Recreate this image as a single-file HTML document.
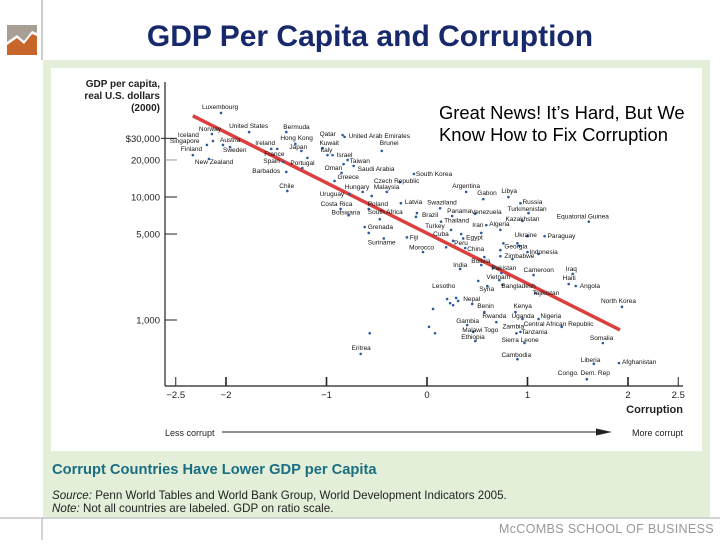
<!DOCTYPE html>
<html><head><meta charset="utf-8"><style>
html,body{margin:0;padding:0;background:#fff;}
svg{display:block;font-family:"Liberation Sans",sans-serif;}
</style></head><body>
<svg id="chart" width="728" height="546" viewBox="0 0 728 546">
<line x1="42" y1="0" x2="42" y2="60" stroke="#999" stroke-width="1"/>
<g>
<rect x="7" y="25" width="30" height="30" fill="#a89e94"/>
<polygon points="7,45 17,38 24,44 32,34 37,36 37,55 7,55" fill="#c8652a"/>
<polygon points="7,42 17,35 24,41 32,31 37,33 37,36 32,34 24,44 17,38 7,45" fill="#fff"/>
</g>
<text x="370" y="46" text-anchor="middle" font-size="30" font-weight="bold" fill="#17296a">GDP Per Capita and Corruption</text>
<rect x="43" y="60" width="667" height="457" fill="#e3efd9"/>
<rect x="51" y="68" width="651" height="383" fill="#fff"/>
<g font-size="18.4" fill="#000">
<text x="439" y="119">Great News!  It’s Hard, But We</text>
<text x="439" y="141">Know How to Fix Corruption</text>
</g>
<g font-size="10" font-weight="bold" fill="#222" text-anchor="end">
<text x="160" y="87">GDP per capita,</text>
<text x="160" y="99">real U.S. dollars</text>
<text x="160" y="111">(2000)</text>
</g>
<g id="yaxis"></g>
<g id="xaxis"></g>
<g id="trend"></g>
<g id="pts"></g>
<g id="labs" font-size="6.5" fill="#111"></g>
<text x="683" y="413" text-anchor="end" font-size="11" font-weight="bold" fill="#222">Corruption</text>
<text x="165" y="436" font-size="9" fill="#222">Less corrupt</text>
<line x1="222" y1="432" x2="604" y2="432" stroke="#222" stroke-width="1"/>
<polygon points="596,428.5 612,432 596,435.5" fill="#222"/>
<text x="683" y="436" text-anchor="end" font-size="9" fill="#222">More corrupt</text>
<text x="52" y="474" font-size="14.7" font-weight="bold" fill="#1b6e82">Corrupt Countries Have Lower GDP per Capita</text>
<text x="52" y="499" font-size="11.6" fill="#222"><tspan font-style="italic">Source:</tspan> Penn World Tables and World Bank Group, World Development Indicators 2005.</text>
<text x="52" y="512" font-size="11.6" fill="#222"><tspan font-style="italic">Note:</tspan> Not all countries are labeled. GDP on ratio scale.</text>
<line x1="0" y1="518" x2="720" y2="518" stroke="#aaa" stroke-width="1"/>
<line x1="42" y1="518" x2="42" y2="540" stroke="#aaa" stroke-width="1"/>
<text x="714" y="533" text-anchor="end" font-size="12.6" fill="#999" letter-spacing="0.3">McCOMBS SCHOOL OF BUSINESS</text>
</svg>
<script>
const names = ["Luxembourg","Norway","Iceland","Singapore","Finland","New Zealand","United States","Austria","Sweden","Bermuda","Hong Kong","Japan","Ireland","France","Spain","Portugal","","Barbados","Chile","Qatar","United Arab Emirates","Kuwait","Italy","Israel","Brunei","Taiwan","","Oman","Saudi Arabia","Greece","Uruguay","Hungary","Malaysia","","Costa Rica","Botswana","Poland","South Africa","Czech Republic","South Korea","Grenada","","Suriname","Latvia","Swaziland","Brazil","","Panama","Venezuela","Thailand","Turkey","Iran","Algeria","","Argentina","Gabon","Libya","Russia","Turkmenistan","Kazakhstan","Equatorial Guinea","Fiji","Cuba","Egypt","Peru","China","Morocco","","Ukraine","Paraguay","Georgia","","","Indonesia","","Zimbabwe","","","Bolivia","","India","Pakistan","Vietnam","","Syria","","Bangladesh","Cameroon","Iraq","Haiti","Angola","Tajikistan","Lesotho","","","","","Nepal","","","","","Eritrea","Benin","Kenya","Gambia","Rwanda","Uganda","Nigeria","Zambia","Central African Republic","Malawi Togo","Tanzania","Ethiopia","Sierra Leone","North Korea","Somalia","Cambodia","Liberia","Afghanistan","Congo. Dem. Rep"];
const corruption = [-2.05,-2.14,-2.13,-2.19,-2.33,-2.17,-1.77,-2.03,-1.96,-1.40,-1.31,-1.25,-1.55,-1.49,-1.43,-1.24,-1.19,-1.40,-1.39,-0.84,-0.82,-1.04,-0.99,-0.94,-0.45,-0.79,-0.83,-0.85,-0.73,-0.92,-0.77,-0.64,-0.55,-0.40,-0.86,-0.78,-0.58,-0.47,-0.27,-0.13,-0.62,-0.58,-0.43,-0.26,0.13,-0.11,-0.10,0.25,0.48,0.14,0.24,0.54,0.59,0.73,0.39,0.56,0.81,0.93,1.01,0.95,1.61,-0.20,0.34,0.36,0.26,0.38,0.19,-0.04,1.00,1.17,0.76,0.90,0.92,1.00,1.11,0.85,0.73,0.73,0.54,0.57,0.33,0.66,0.74,0.72,0.60,0.51,0.75,1.06,1.45,1.41,1.48,1.08,0.20,0.23,0.26,0.29,0.31,0.45,0.06,0.02,0.08,-0.57,-0.66,0.57,0.88,0.40,0.69,0.95,1.11,0.89,1.34,0.46,0.93,0.48,0.97,1.94,1.75,0.90,1.66,1.91,1.59];
const gdp = [48200,32500,28500,26500,21900,20400,33700,26500,25500,33700,27000,23700,24600,24600,19300,17200,20800,16000,11200,31900,30800,25000,21900,21900,23700,20000,18500,15700,17900,13500,10600,11000,10200,11000,8000,7100,8000,6600,13200,15400,5700,5100,4600,8900,8100,6900,7400,7000,7300,6300,5400,5100,5900,5400,11000,9600,10000,8900,7400,6400,6300,4700,5000,4600,4400,3850,3900,3570,4800,4800,4200,4200,4000,3570,3440,3130,3700,3300,2800,3250,2600,2650,2410,2110,1890,2080,1930,2320,2370,1960,1890,1660,1480,1370,1320,1510,1430,1350,1230,880,780,780,530,1160,1160,910,960,1020,1020,780,880,800,800,675,650,1280,650,480,440,447,330];
const labelDx = [-19,-13,-35,-37,-12,-14,-20,-3,-7,-3,-15,-12,-16,-13,-20,-12,0,-34,-8,-23,4,-3,-7,4,-2,2,0,-17,4,3,-30,-18,2,0,-20,-17,-1,-12,-26,2,3,0,-16,4,-13,6,0,-5,-4,3,-26,-9,3,0,-14,-6,-7,2,-21,-17,-32,3,-28,3,1,2,-37,0,-13,3,1,0,0,2,0,-8,0,0,-10,0,-7,-2,-15,0,-8,0,-1,-10,-7,-6,4,-3,-15,0,0,0,0,-9,0,0,0,0,-9,-7,-2,-11,-14,-11,2,-14,-38,-11,1,-14,-23,-21,-13,-16,-13,3,-29];
const labelDy = [-4,-3,-4,-2,-4,5,-4,-3,5,-3,-4,-2,-4,7,1,-3,0,1,-3,1,1,-3,-3,2,-6,3,0,-3,5,-2,2,-3,-7,0,-3,-1,-3,-5,1,2,2,0,6,1,-4,0,0,-3,0,1,-2,-6,1,0,-4,-4,-4,1,-2,0,-3,2,2,1,4,3,2,0,1,2,5,0,0,2,0,-1,0,0,-2,0,-2,2,6,0,5,0,3,-3,-3,-4,2,2,-11,0,0,0,0,-3,0,0,0,0,-4,-4,-4,-2,-4,-1,-1,-5,-1,0,2,-2,-1,-4,-3,-2,-2,1,-4];
const trendX = [-2.33, 1.92];
const trendY = [45700, 830];
const yTickValues = [30000, 20000, 10000, 5000, 1000];
const yTickLabels = ["$30,000","20,000","10,000","5,000","1,000"];
const xTickValues = [-2.5,-2,-1,0,1,2,2.5];
const xTickLabels = ["\u22122.5","\u22122","\u22121","0","1","2","2.5"];

const NS = "http://www.w3.org/2000/svg";
function xScale(c){ return 427 + 100.5*c; }
function yScale(v){ return 197 - (Math.log10(v)-4)*123; }
function mk(tag, attrs, parent){ const e=document.createElementNS(NS,tag); for(const k in attrs) e.setAttribute(k,attrs[k]); parent.appendChild(e); return e; }

const ya=document.getElementById('yaxis');
let al=mk('line',{x1:165,y1:82,x2:165,y2:386,stroke:'#222','stroke-width':1.2},ya);


yTickValues.forEach((v,i)=>{
  const y=yScale(v);
  const t=mk('line',{x1:(i===0?161:165),y1:y,x2:177,y2:y,stroke:(i===1?'#999':'#222'),'stroke-width':1},ya);
  
  
  const l=mk('text',{x:160,y:y+3.5,'text-anchor':'end','font-size':9.5,fill:'#222'},ya);
  l.textContent=yTickLabels[i];
  
  
});
const xa=document.getElementById('xaxis');
let xl=mk('line',{x1:165,y1:386,x2:683,y2:386,stroke:'#222','stroke-width':1.2},xa);


xTickValues.forEach((v,i)=>{
  const x=xScale(v);
  const t=mk('line',{x1:x,y1:377,x2:x,y2:386,stroke:'#222','stroke-width':(Number.isInteger(v)?1.6:1)},xa);
  
  
  const l=mk('text',{x:x,y:398,'text-anchor':'middle','font-size':9.5,fill:'#222'},xa);
  l.textContent=xTickLabels[i];
  
  
});
const tr=document.getElementById('trend');
const tl=mk('line',{x1:xScale(trendX[0]),y1:yScale(trendY[0]),x2:xScale(trendX[1]),y2:yScale(trendY[1]),stroke:'#d9403e','stroke-width':3.5,'stroke-linecap':'butt'},tr);


const pg=document.getElementById('pts'), lg=document.getElementById('labs');
names.forEach((n,i)=>{
  const x=xScale(corruption[i]), y=yScale(gdp[i]);
  const c=mk('circle',{cx:x,cy:y,r:1.3,fill:'#2b5b9e'},pg);
  
  
  if(n){
    const t=mk('text',{x:x+labelDx[i],y:y+labelDy[i]},lg);
    t.textContent=n;
    
    
  }
});
</script>
</body></html>
